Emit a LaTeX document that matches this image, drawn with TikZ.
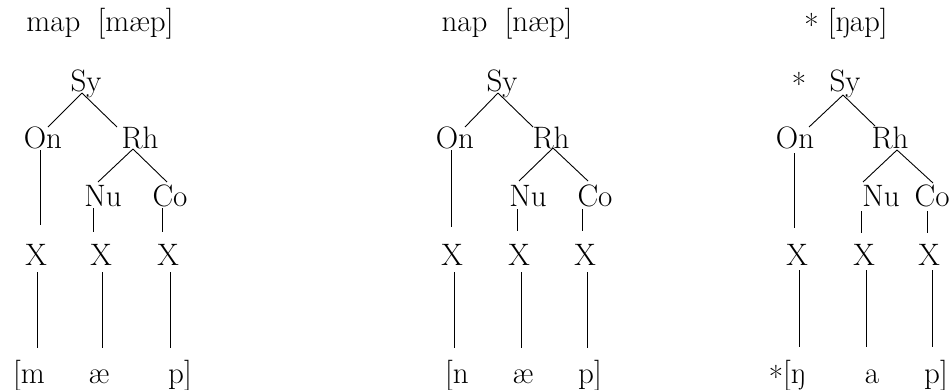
\documentclass[tikz,border=0pt]{standalone}
\usepackage{fontspec}
\usetikzlibrary{calc}
\tikzset{
  lbl/.style={anchor=base, inner sep=0pt, outer sep=0pt, font=\fontsize{31}{37}\selectfont},
  conn/.style={line width=0.9pt, line cap=butt},
}
\newcommand{\lowstar}{\raisebox{-5pt}{*}}
\begin{document}
\begin{tikzpicture}[x=1pt,y=-1pt]
\path[use as bounding box] (0,0) rectangle (952,389);
% ---------- panel 1 ----------
\node[lbl] (t1) at (100,31) {map\hspace{0.55em}[mæp]};
\node[lbl] (sy1) at (86,91) {Sy};
\node[lbl] (on1) at (43,148) {On};
\node[lbl] (rh1) at (140,148) {Rh};
\node[lbl] (nu1) at (103,206) {Nu};
\node[lbl] (co1) at (170,206) {Co};
\node[lbl] (xa1) at (36,265) {X};
\node[lbl] (xb1) at (101,265) {X};
\node[lbl] (xc1) at (168,265) {X};
\node[lbl] (ba1) at (29,383) {[m};
\node[lbl] (bb1) at (99,383) {æ};
\node[lbl] (bc1) at (180,383) {p]};
\draw[conn] ($(sy1.base)+(-4,2)$) -- ($(on1.base)+(5,-21)$);
\draw[conn] ($(sy1.base)+(-4,2)$) -- ($(rh1.base)+(-23,-21)$);
\draw[conn] ($(rh1.base)+(-7,1)$) -- ($(nu1.base)+(-5,-24)$);
\draw[conn] ($(rh1.base)+(-7,1)$) -- ($(co1.base)+(-3,-24)$);
\draw[conn] ($(on1.base)+(-3,2)$) -- ($(xa1.base)+(4,-40)$);
\draw[conn] ($(nu1.base)+(-10,2)$) -- ($(xb1.base)+(-8,-33)$);
\draw[conn] ($(co1.base)+(-8,2)$) -- ($(xc1.base)+(-6,-33)$);
\draw[conn] ($(xa1.base)+(1,7)$) -- ($(ba1.base)+(8,-35)$);
\draw[conn] ($(xb1.base)+(1,7)$) -- ($(bb1.base)+(3,-35)$);
\draw[conn] ($(xc1.base)+(2,7)$) -- ($(bc1.base)+(-10,-35)$);
% ---------- panel 2 ----------
\node[lbl] (t2) at (507,31) {nap\hspace{0.55em}[næp]};
\node[lbl] (sy2) at (502,91) {Sy};
\node[lbl] (on2) at (455,148) {On};
\node[lbl] (rh2) at (551,148) {Rh};
\node[lbl] (nu2) at (528,206) {Nu};
\node[lbl] (co2) at (595,206) {Co};
\node[lbl] (xa2) at (452,265) {X};
\node[lbl] (xb2) at (519,265) {X};
\node[lbl] (xc2) at (585,265) {X};
\node[lbl] (ba2) at (457,383) {[n};
\node[lbl] (bb2) at (523,383) {æ};
\node[lbl] (bc2) at (590,383) {p]};
\draw[conn] ($(sy2.base)+(-4,2)$) -- ($(on2.base)+(10,-21)$);
\draw[conn] ($(sy2.base)+(-4,2)$) -- ($(rh2.base)+(-18,-21)$);
\draw[conn] ($(rh2.base)+(2,0)$) -- ($(nu2.base)+(-9,-25)$);
\draw[conn] ($(rh2.base)+(2,0)$) -- ($(co2.base)+(-7,-25)$);
\draw[conn] ($(on2.base)+(-4,2)$) -- ($(xa2.base)+(-1,-38)$);
\draw[conn] ($(nu2.base)+(-11,3)$) -- ($(xb2.base)+(-2,-34)$);
\draw[conn] ($(co2.base)+(-13,3)$) -- ($(xc2.base)+(-3,-34)$);
\draw[conn] ($(xa2.base)+(2,7)$) -- ($(ba2.base)+(-3,-35)$);
\draw[conn] ($(xb2.base)+(2,7)$) -- ($(bb2.base)+(-2,-35)$);
\draw[conn] ($(xc2.base)+(2,7)$) -- ($(bc2.base)+(-3,-35)$);
% ---------- panel 3 ----------
\node[lbl] (t3) at (846,31) {\lowstar\hspace{0.3em}[ŋap]};
\node[lbl] (st3) at (799,95) {*};
\node[lbl] (sy3) at (845,91) {Sy};
\node[lbl] (on3) at (795,148) {On};
\node[lbl] (rh3) at (890,148) {Rh};
\node[lbl] (nu3) at (881,206) {Nu};
\node[lbl] (co3) at (932,206) {Co};
\node[lbl] (xa3) at (797,265) {X};
\node[lbl] (xb3) at (864,265) {X};
\node[lbl] (xc3) at (929,265) {X};
\node[lbl] (ba3) at (787,383) {\lowstar[ŋ};
\node[lbl] (bb3) at (872,383) {a};
\node[lbl] (bc3) at (936,383) {p]};
\draw[conn] ($(sy3.base)+(-2,4)$) -- ($(on3.base)+(14,-21)$);
\draw[conn] ($(sy3.base)+(-2,4)$) -- ($(rh3.base)+(-15,-22)$);
\draw[conn] ($(rh3.base)+(7,2)$) -- ($(nu3.base)+(-18,-24)$);
\draw[conn] ($(rh3.base)+(7,2)$) -- ($(co3.base)+(1,-23)$);
\draw[conn] ($(on3.base)+(-1,5)$) -- ($(xa3.base)+(-3,-37)$);
\draw[conn] ($(nu3.base)+(-20,5)$) -- ($(xb3.base)+(-3,-32)$);
\draw[conn] ($(co3.base)+(-5,5)$) -- ($(xc3.base)+(-2,-32)$);
\draw[conn] ($(xa3.base)+(2,5)$) -- ($(ba3.base)+(12,-36)$);
\draw[conn] ($(xb3.base)+(2,5)$) -- ($(bb3.base)+(-6,-36)$);
\draw[conn] ($(xc3.base)+(3,5)$) -- ($(bc3.base)+(-4,-36)$);
\end{tikzpicture}
\end{document}
